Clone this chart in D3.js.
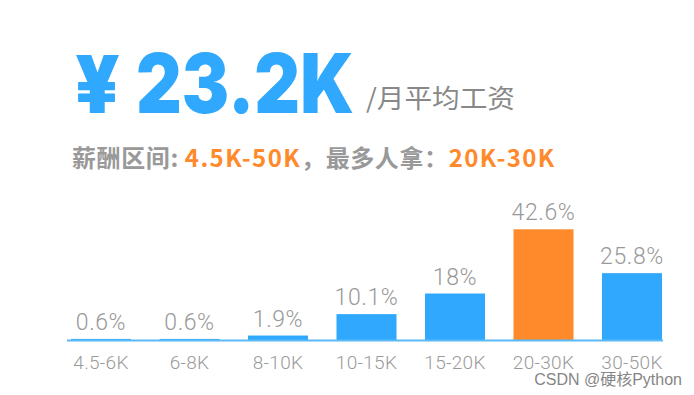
<!DOCTYPE html>
<html><head><meta charset="utf-8">
<script src="https://cdn.jsdelivr.net/npm/d3@7/dist/d3.min.js"></script>
<style>
html,body{margin:0;padding:0;background:#fff;}
svg{display:block;}
</style></head>
<body>
<svg id="chart" width="694" height="395"></svg>
<script>
const categories = ["4.5-6K","6-8K","8-10K","10-15K","15-20K","20-30K","30-50K"];
const values = [0.6,0.6,1.9,10.1,18,42.6,25.8];
const highlight = "20-30K";
const avgSalary = "23.2K";
const salaryRange = "4.5K-50K";
const mostCommon = "20K-30K";

const W = 694, H = 395;
const svg = d3.select("#chart");
svg.append("rect").attr("width",W).attr("height",H).attr("fill","#fff");

const blue = "#2fa8fd", orange = "#fe8a2b", gray = "#999999";
const cjk = "'Noto Sans CJK SC','Noto Sans',sans-serif";

// Title
svg.append("text").attr("x",75).attr("y",113)
  .attr("font-family","Inter, 'DejaVu Sans', sans-serif").attr("font-weight",900)
  .attr("font-size",80).attr("fill",blue)
  .attr("textLength",45).attr("lengthAdjust","spacingAndGlyphs").text("¥");
svg.append("text").attr("x",136).attr("y",113)
  .attr("font-family","Inter, 'DejaVu Sans', sans-serif").attr("font-weight",900)
  .attr("font-size",82).attr("fill",blue)
  .attr("textLength",218).attr("lengthAdjust","spacingAndGlyphs").text(avgSalary);
svg.append("text").attr("x",366).attr("y",107.5)
  .attr("font-family",cjk).attr("font-size",26.5).attr("fill","#888")
  .attr("textLength",149).attr("lengthAdjust","spacingAndGlyphs")
  .text("/月平均工资");

// Subtitle
const sub = svg.append("text").attr("x",72).attr("y",167)
  .attr("font-family",cjk).attr("font-weight",700).attr("font-size",24)
  .attr("letter-spacing",0.6);
sub.append("tspan").attr("fill",gray).text("薪酬区间: ");
sub.append("tspan").attr("fill",orange).attr("letter-spacing",1.4).text(salaryRange);
sub.append("tspan").attr("fill",gray).text("，最多人拿：");
sub.append("tspan").attr("fill",orange).attr("letter-spacing",1.4).text(mostCommon);

// Chart
const x = d3.scaleBand().domain(categories).range([56.75,676.25]).paddingInner(0.322).paddingOuter(0.161);
const y = d3.scaleLinear().domain([0,42.6]).range([340.5,229.3]);

svg.selectAll("rect.bar").data(values).join("rect").attr("class","bar")
  .attr("x",(d,i)=>x(categories[i]))
  .attr("width",x.bandwidth())
  .attr("y",d=>y(d))
  .attr("height",d=>y(0)-y(d))
  .attr("fill",(d,i)=>categories[i]===highlight?orange:blue);

// axis line
const axis = d3.axisBottom(x).tickSize(0).tickPadding(0);
const gAxis = svg.append("g").attr("transform","translate(0,340.5)").call(axis);
gAxis.select(".domain").attr("stroke","#5cb9f7").attr("stroke-width",2)
  .attr("d",`M67,0H663`);
gAxis.selectAll(".tick text").attr("font-family","Roboto, 'Noto Sans', sans-serif")
  .attr("font-weight",300).attr("font-size",19).attr("fill","#9a9a9a")
  .attr("letter-spacing",0.3)
  .attr("dy",null).attr("y",28.5);

// value labels
svg.selectAll("text.val").data(values).join("text").attr("class","val")
  .attr("x",(d,i)=>x(categories[i])+x.bandwidth()/2)
  .attr("y",d=>y(d)-9)
  .attr("text-anchor","middle")
  .attr("font-family","Roboto, 'Noto Sans', sans-serif").attr("font-weight",300)
  .attr("font-size",23).attr("fill","#999").attr("letter-spacing",0.6).text(d=>d+"%");

// watermark
svg.append("text").attr("x",682).attr("y",385).attr("text-anchor","end")
  .attr("font-family","'Liberation Sans','Noto Sans CJK SC', sans-serif").attr("font-size",16)
  .attr("fill","#858585").text("CSDN @硬核Python");
</script>
</body></html>
